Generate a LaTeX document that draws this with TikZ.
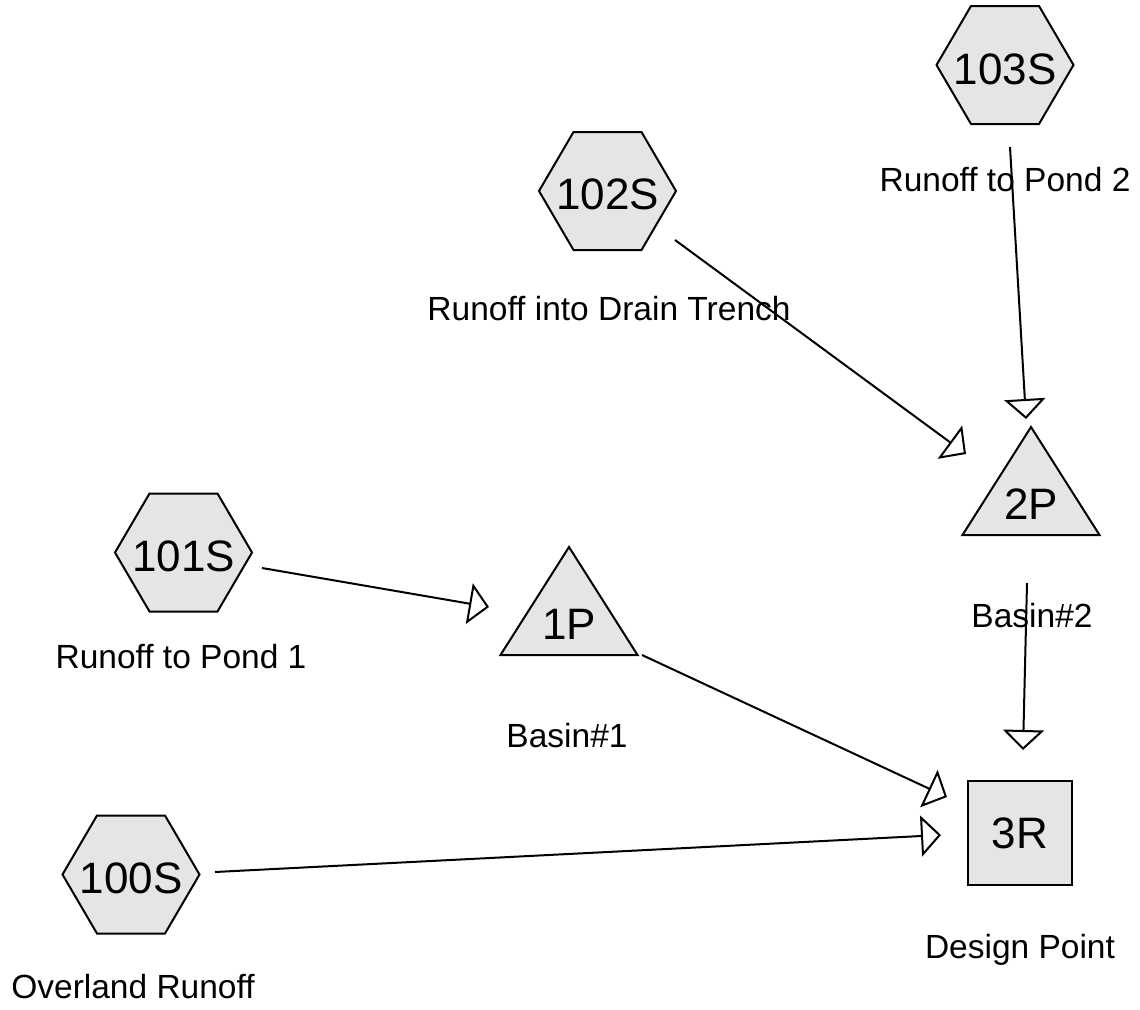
\documentclass[tikz,border=0pt]{standalone}
\usepackage{fontspec}
\setmainfont{Liberation Sans}
\usetikzlibrary{arrows.meta,calc}
\definecolor{nodefill}{gray}{0.9}
\begin{document}
\begin{tikzpicture}[x=1pt,y=-1pt,
  outline/.style={draw=black, line width=2pt, fill=nodefill},
  idtext/.style={inner sep=0pt, font=\fontsize{44}{50}\selectfont},
  reachnode/.style={rectangle, minimum size=104pt, inner sep=0pt, outline,
    font=\fontsize{44}{50}\selectfont},
  labeltext/.style={anchor=base, inner sep=0pt, font=\fontsize{33.5}{40}\selectfont},
  flow/.style={line width=2pt,
    -{Triangle[length=20pt,width=41pt,fill=white,line width=2pt]}}
]
\useasboundingbox (0,0) rectangle (1140,1009);

% subcatchments (hexagons drawn round a centre, text below it slightly)
\foreach \n/\cx/\cy in {s103/1005/65, s102/607.5/191, s101/183.5/552.5, s100/131/874.5}{
  \draw[outline] (\cx-68.5,\cy) -- (\cx-34,\cy-59) -- (\cx+34,\cy-59)
    -- (\cx+68.5,\cy) -- (\cx+34,\cy+59) -- (\cx-34,\cy+59) -- cycle;
}
\node[idtext] (s103) at (1005,69) {103S};
\node[idtext] (s102) at (607.5,194) {102S};
\node[idtext] (s101) at (183.5,556) {101S};
\node[idtext] (s100) at (131,878) {100S};

% ponds
\coordinate (c1) at (569,624);
\draw[outline] ($(c1)+(0,-77)$) -- ($(c1)+(-68.5,31)$) -- ($(c1)+(68.5,31)$) -- cycle;
\node[idtext] (p1) at (c1) {1P};
\coordinate (c2) at (1031,504);
\draw[outline] ($(c2)+(0,-77)$) -- ($(c2)+(-68.5,31)$) -- ($(c2)+(68.5,31)$) -- cycle;
\node[idtext] (p2) at (c2) {2P};

% reach
\node[reachnode] (r3) at (1020,833) {3R};

% labels
\node[labeltext] (l103) at (1005,191) {Runoff to Pond 2};
\node[labeltext] (l102) at (609,320) {Runoff into Drain Trench};
\node[labeltext] (l101) at (181,668) {Runoff to Pond 1};
\node[labeltext] (l100) at (133,998) {Overland Runoff};
\node[labeltext] (lp1) at (567,747) {Basin\#1};
\node[labeltext] (lp2) at (1032,627) {Basin\#2};
\node[labeltext] (lr3) at (1020,958) {Design Point};

% connectors
\draw[flow] ($(s103)+(5,78)$) -- ($(p2)+(-5,-85)$);
\draw[flow] ($(s102)+(67.5,46)$) -- ($(p2)+(-65,-50)$);
\draw[flow] ($(s101)+(78.5,12)$) -- ($(p1)+(-80,-17)$);
\draw[flow] ($(p1)+(73,31)$) -- ($(r3)+(-73,-36)$);
\draw[flow] ($(s100)+(84,-6)$) -- ($(r3)+(-79,2)$);
\draw[flow] ($(p2)+(-4,79)$) -- ($(r3)+(3,-83)$);
\end{tikzpicture}
\end{document}
